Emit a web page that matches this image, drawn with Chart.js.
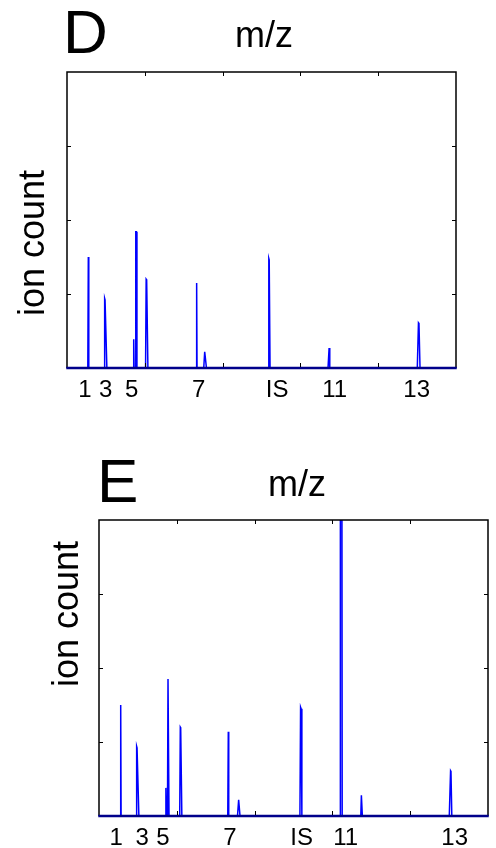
<!DOCTYPE html>
<html>
<head>
<meta charset="utf-8">
<script src="https://cdn.jsdelivr.net/npm/chart.js@4/dist/chart.umd.min.js"></script>
<style>
  body { margin: 0; background: #fff; }
  canvas { display: block; }
</style>
</head>
<body>
<canvas id="chartD" width="496" height="424"></canvas>
<canvas id="chartE" width="496" height="424"></canvas>
<script>
// tick labels under the x axis (peak names)
var tickLabels = ['1', '3', '5', '7', 'IS', '11', '13'];

// panel D spectrum: m/z position (0-100 axis units) and ion count
var dMz = [0, 5.35, 5.48, 5.6, 9.55, 9.68, 9.78, 10.25, 17.05, 17.15, 17.25, 17.55, 17.68, 17.82, 17.98,
  20.2, 20.35, 20.48, 20.8, 33.2, 33.33, 33.43, 35.15, 35.4, 35.85, 51.7, 51.88, 51.98, 52.2,
  67.1, 67.38, 67.55, 90.05, 90.35, 90.48, 90.75, 100];
var dIon = [0, 0, 1.5, 0, 0, 0.94, 0.92, 0, 0, 0.39, 0, 0, 1.84, 1.84, 0,
  0, 1.2, 1.19, 0, 0, 1.15, 0, 0, 0.22, 0, 0, 1.48, 1.46, 0,
  0, 0.27, 0, 0, 0.61, 0.6, 0, 0];
var dLabelPos = [4.63, 9.97, 16.63, 33.86, 54.0, 68.8, 89.9];

// panel E spectrum
var eMz = [0, 5.45, 5.58, 5.68, 9.55, 9.68, 9.78, 10.25, 17.1, 17.2, 17.3, 17.6, 17.74, 17.86, 18.0,
  20.75, 20.9, 21.0, 21.3, 33.1, 33.24, 33.35, 35.6, 35.9, 36.25, 51.65, 51.82, 51.95, 52.15,
  61.98, 62.05, 62.45, 62.52, 67.3, 67.45, 67.7, 90.05, 90.38, 90.48, 90.7, 100];
var eIon = [0, 0, 1.5, 0, 0, 0.94, 0.92, 0, 0, 0.38, 0, 0, 1.85, 1.85, 0,
  0, 1.2, 1.19, 0, 0, 1.14, 0, 0, 0.22, 0, 0, 1.47, 1.45, 0,
  0, 4.4, 4.4, 0, 0, 0.28, 0, 0, 0.61, 0.6, 0, 0];
var eLabelPos = [4.42, 11.13, 16.45, 33.68, 52.1, 63.4, 91.44];

var FONT = '"Liberation Sans", Arial, Helvetica, sans-serif';

// box around the plot, inward tick marks, and the panel texts
var framePlugin = {
  id: 'frame',
  afterDatasetsDraw: function (chart) {
    var ctx = chart.ctx;
    var a = chart.chartArea;
    var xs = chart.scales.x;
    var ys = chart.scales.y;
    ctx.save();
    ctx.strokeStyle = '#000';
    ctx.lineWidth = 1.5;
    ctx.beginPath();
    ctx.moveTo(a.left, a.bottom);
    ctx.lineTo(a.left, a.top);
    ctx.lineTo(a.right, a.top);
    ctx.lineTo(a.right, a.bottom);
    ctx.stroke();
    // bottom edge: blue baseline over the black axis
    ctx.strokeStyle = '#00008b';
    ctx.lineWidth = 2.5;
    ctx.beginPath();
    ctx.moveTo(a.left - 0.75, a.bottom);
    ctx.lineTo(a.right + 0.75, a.bottom);
    ctx.stroke();
    ctx.strokeStyle = '#000';
    ctx.lineWidth = 1;
    ctx.beginPath();
    xs.ticks.forEach(function (t) {
      if (t.value <= xs.min || t.value >= xs.max) return;
      var px = Math.round(xs.getPixelForValue(t.value)) + 0.5;
      ctx.moveTo(px, a.top); ctx.lineTo(px, a.top + 4);
      ctx.moveTo(px, a.bottom - 1); ctx.lineTo(px, a.bottom - 5);
    });
    ys.ticks.forEach(function (t) {
      if (t.value <= ys.min || t.value >= ys.max) return;
      var py = Math.round(ys.getPixelForValue(t.value)) + 0.5;
      ctx.moveTo(a.left, py); ctx.lineTo(a.left + 4, py);
      ctx.moveTo(a.right, py); ctx.lineTo(a.right - 4, py);
    });
    ctx.stroke();
    ctx.restore();
  },
  afterDraw: function (chart, args, opts) {
    var ctx = chart.ctx;
    ctx.save();
    ctx.fillStyle = '#000';
    ctx.textBaseline = 'alphabetic';
    ctx.font = '62px ' + FONT;
    ctx.textAlign = 'left';
    ctx.fillText(opts.letter, opts.letterX, opts.letterY);
    ctx.font = '36px ' + FONT;
    ctx.textAlign = 'center';
    ctx.fillText('m/z', opts.titleX, opts.titleY);
    ctx.translate(opts.yLabelX, opts.yLabelY);
    ctx.rotate(-Math.PI / 2);
    ctx.fillText('ion count', 0, 0);
    ctx.restore();
  }
};

function makeChart(id, mz, ion, labelPos, pad, text) {
  var points = mz.map(function (m, i) { return { x: m, y: ion[i] }; });
  return new Chart(document.getElementById(id), {
    type: 'line',
    data: {
      datasets: [{
        data: points,
        borderColor: '#0000ff',
        borderWidth: 1.5,
        pointRadius: 0,
        tension: 0,
        fill: false,
        xAxisID: 'x',
        yAxisID: 'y'
      }]
    },
    options: {
      responsive: false,
      animation: false,
      devicePixelRatio: 1,
      layout: { padding: pad },
      plugins: {
        legend: { display: false },
        tooltip: { enabled: false },
        frame: text
      },
      scales: {
        x: {
          type: 'linear', min: 0, max: 100, display: false,
          ticks: { stepSize: 20 }
        },
        xl: {
          type: 'linear', min: 0, max: 100, position: 'bottom',
          grid: { display: false },
          border: { display: false },
          afterFit: function (scale) { scale.height = 32; },
          afterBuildTicks: function (scale) {
            scale.ticks = labelPos.map(function (v) { return { value: v }; });
          },
          ticks: {
            autoSkip: false,
            maxRotation: 0,
            padding: 0,
            color: '#000',
            font: { family: FONT, size: 24 },
            callback: function (value, index) { return tickLabels[index]; }
          }
        },
        y: {
          type: 'linear', min: 0, max: 4, display: false,
          ticks: { stepSize: 1 }
        }
      }
    },
    plugins: [framePlugin]
  });
}

makeChart('chartD', dMz, dIon, dLabelPos,
  { left: 67, top: 72, right: 40, bottom: 24 },
  { letter: 'D', letterX: 63, letterY: 53, titleX: 264, titleY: 47, yLabelX: 44, yLabelY: 243 });

makeChart('chartE', eMz, eIon, eLabelPos,
  { left: 99, top: 96, right: 8, bottom: 0 },
  { letter: 'E', letterX: 97, letterY: 78, titleX: 297, titleY: 72, yLabelX: 78, yLabelY: 190 });
</script>
</body>
</html>
